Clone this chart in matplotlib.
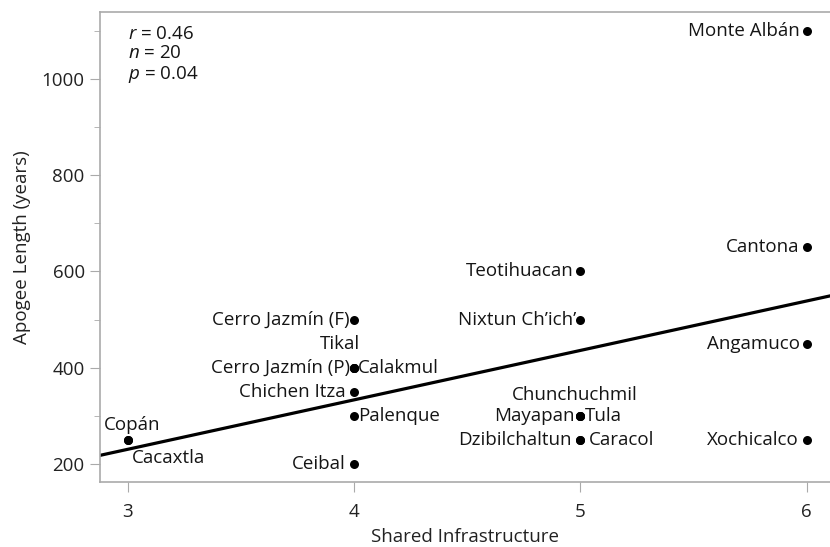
import matplotlib
matplotlib.use("Agg")
import matplotlib.pyplot as plt
import numpy as np
from matplotlib.ticker import MultipleLocator

plt.rcParams['font.family'] = ['Open Sans', 'DejaVu Sans']
plt.rcParams['mathtext.fontset'] = 'custom'
plt.rcParams['mathtext.it'] = 'Open Sans:italic'
plt.rcParams['mathtext.rm'] = 'Open Sans'

sites = ["Monte Albán", "Cantona", "Angamuco", "Xochicalco",
         "Teotihuacan", "Nixtun Ch\u2019ich\u2019", "Chunchuchmil", "Mayapan", "Tula",
         "Dzibilchaltun", "Caracol",
         "Cerro Jazmín (F)", "Tikal", "Cerro Jazmín (P)", "Calakmul",
         "Chichen Itza", "Palenque", "Ceibal", "Copán", "Cacaxtla"]
infrastructure = [6, 6, 6, 6,
                  5, 5, 5, 5, 5,
                  5, 5,
                  4, 4, 4, 4,
                  4, 4, 4, 3, 3]
apogee = [1100, 650, 450, 250,
          600, 500, 300, 300, 300,
          250, 250,
          500, 400, 400, 400,
          350, 300, 200, 250, 250]
p_value = 0.04

# label placement: (dx, dy) in points, ha, va
placement = {
    "Monte Albán": ((-5, 0), "right", "center"),
    "Cantona": ((-5, 0), "right", "center"),
    "Angamuco": ((-5, 0), "right", "center"),
    "Xochicalco": ((-6, 0), "right", "center"),
    "Teotihuacan": ((-5, 0), "right", "center"),
    "Nixtun Ch\u2019ich\u2019": ((-3, 0), "right", "center"),
    "Chunchuchmil": ((-4, 15), "center", "center"),
    "Mayapan": ((-4, 0), "right", "center"),
    "Tula": ((3, 0), "left", "center"),
    "Dzibilchaltun": ((-6, 0), "right", "center"),
    "Caracol": ((6, 0), "left", "center"),
    "Cerro Jazmín (F)": ((-3, 0), "right", "center"),
    "Tikal": ((-10, 17), "center", "center"),
    "Cerro Jazmín (P)": ((-3, 0), "right", "center"),
    "Calakmul": ((3, 0), "left", "center"),
    "Chichen Itza": ((-6, 0), "right", "center"),
    "Palenque": ((3, 0), "left", "center"),
    "Ceibal": ((-6, 0), "right", "center"),
    "Copán": ((3, 11), "center", "center"),
    "Cacaxtla": ((3, -13), "left", "center"),
}

FS = 13.5
TXT = '#151515'

fig = plt.figure(figsize=(8.30, 5.47), dpi=100)
ax = fig.add_axes([0.1205, 0.1188, 0.8795, 0.8592])

x = np.array(infrastructure, dtype=float)
y = np.array(apogee, dtype=float)
ax.scatter(x, y, s=42, color='black', zorder=3, linewidths=0)

slope, intercept = np.polyfit(x, y, 1)
xl = np.array([2.878, 6.103])
ax.plot(xl, intercept + slope * xl, color='black', lw=2.3, zorder=2)

for name, xi, yi in zip(sites, infrastructure, apogee):
    (dx, dy), ha, va = placement[name]
    ax.annotate(name, (xi, yi), xytext=(dx, dy), textcoords='offset points',
                ha=ha, va=va, fontsize=FS, color=TXT)

r = np.corrcoef(x, y)[0, 1]
ax.text(0.0385, 0.972, f"$r$ = {r:.2f}\n$n$ = {len(x)}\n$p$ = {p_value:.2f}",
        transform=ax.transAxes, ha='left', va='top', fontsize=FS,
        color=TXT, linespacing=1.08)

ax.set_xlim(2.878, 6.103)
ax.set_ylim(162.6, 1139)
ax.set_xticks([3, 4, 5, 6])
ax.yaxis.set_major_locator(MultipleLocator(200))
ax.yaxis.set_minor_locator(MultipleLocator(100))
ax.tick_params(axis='both', which='major', length=7, color='#aaaaaa',
               labelsize=FS, labelcolor='#222222', pad=4)
ax.tick_params(axis='x', pad=8)
ax.tick_params(axis='y', which='minor', length=4, color='#aaaaaa')
for s in ['left', 'bottom', 'top']:
    ax.spines[s].set_color('#aaaaaa')
    ax.spines[s].set_linewidth(1.2)
ax.spines['right'].set_visible(False)

ax.set_xlabel("Shared Infrastructure", fontsize=FS, color='#222222', labelpad=5)
ax.set_ylabel("Apogee Length (years)", fontsize=FS, color='#222222', labelpad=7.5)

fig.savefig("out.png", dpi=100)
